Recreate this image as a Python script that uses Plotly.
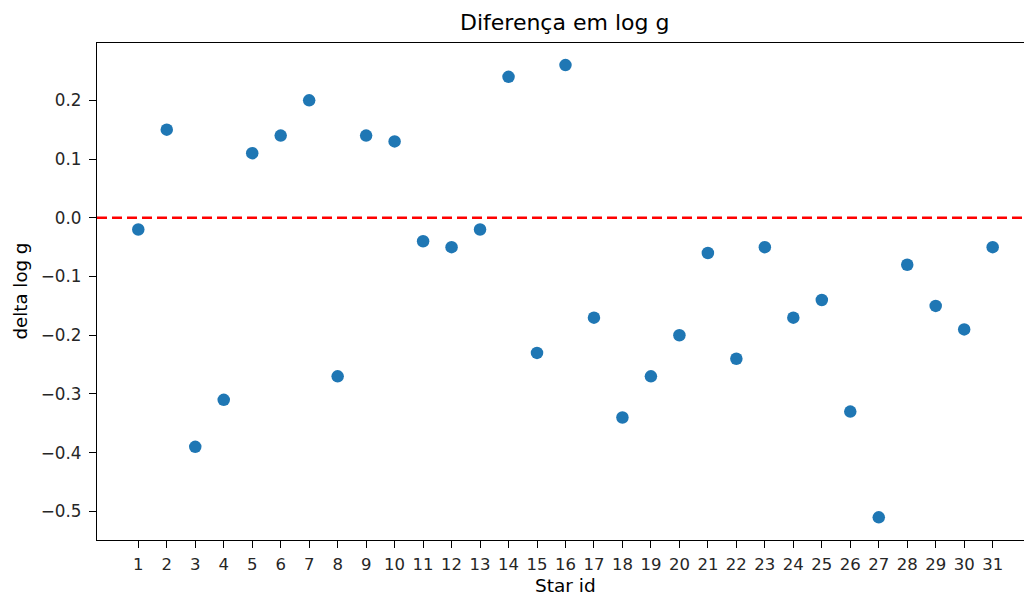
import plotly.graph_objects as go

star_ids = list(range(1, 32))
delta_logg = [-0.02, 0.15, -0.39, -0.31, 0.11, 0.14, 0.20, -0.27, 0.14, 0.13,
              -0.04, -0.05, -0.02, 0.24, -0.23, 0.26, -0.17, -0.34, -0.27, -0.20,
              -0.06, -0.24, -0.05, -0.17, -0.14, -0.33, -0.51, -0.08, -0.15, -0.19,
              -0.05]
y_tick_vals = [-0.5, -0.4, -0.3, -0.2, -0.1, 0.0, 0.1, 0.2]
y_tick_text = ["\u22120.5", "\u22120.4", "\u22120.3", "\u22120.2", "\u22120.1", "0.0", "0.1", "0.2"]
x_tick_text = [str(i) for i in star_ids]

FONT = "DejaVu Sans"
W, H = 1024, 597
L, R, T, B = 97, 0, 43, 57
pw = W - L - R
ph = H - T - B

fig = go.Figure()
fig.add_trace(go.Scatter(
    x=star_ids, y=delta_logg, mode="markers",
    marker=dict(color="#1f77b4", size=12.5, line=dict(width=0)),
    showlegend=False,
))
fig.add_hline(y=0, line=dict(color="red", dash="10px,5px", width=2.5))

fig.update_layout(
    width=W, height=H,
    margin=dict(l=L, r=R, t=T, b=B, pad=0),
    paper_bgcolor="white", plot_bgcolor="white",
    font=dict(family=FONT, size=17, color="#262626"),
    xaxis=dict(
        range=[-0.45, 32.1], tickvals=star_ids, ticktext=x_tick_text,
        showgrid=False, zeroline=False, showline=True, linecolor="black",
        linewidth=1.3, mirror=True, ticks="outside", ticklen=7, tickcolor="black",
        tickwidth=1.3, ticklabelstandoff=2,
        tickfont=dict(family=FONT, size=16.5, color="#262626"),
    ),
    yaxis=dict(
        range=[-0.5486, 0.2976], tickvals=y_tick_vals, ticktext=y_tick_text,
        showgrid=False, zeroline=False, showline=True, linecolor="black",
        linewidth=1.3, mirror=False, ticks="outside", ticklen=7, tickcolor="black",
        tickwidth=1.3, ticklabelstandoff=4,
        tickfont=dict(family=FONT, size=16.8, color="#262626"),
    ),
    annotations=[
        dict(text="Diferença em log g", xref="paper", yref="paper",
             x=(564 - L) / pw, y=1 + (T - 22) / ph, xanchor="center", yanchor="middle",
             showarrow=False, font=dict(family=FONT, size=22, color="black")),
        dict(text="Star id", xref="paper", yref="paper",
             x=(565 - L) / pw, y=-(585 - (T + ph)) / ph, xanchor="center", yanchor="middle",
             showarrow=False, font=dict(family=FONT, size=18.5, color="black")),
        dict(text="delta log g", xref="paper", yref="paper",
             x=(20 - L) / pw, y=0.5, xanchor="center", yanchor="middle", textangle=-90,
             showarrow=False, font=dict(family=FONT, size=18.2, color="black")),
    ],
)
fig.write_html("out.html")
